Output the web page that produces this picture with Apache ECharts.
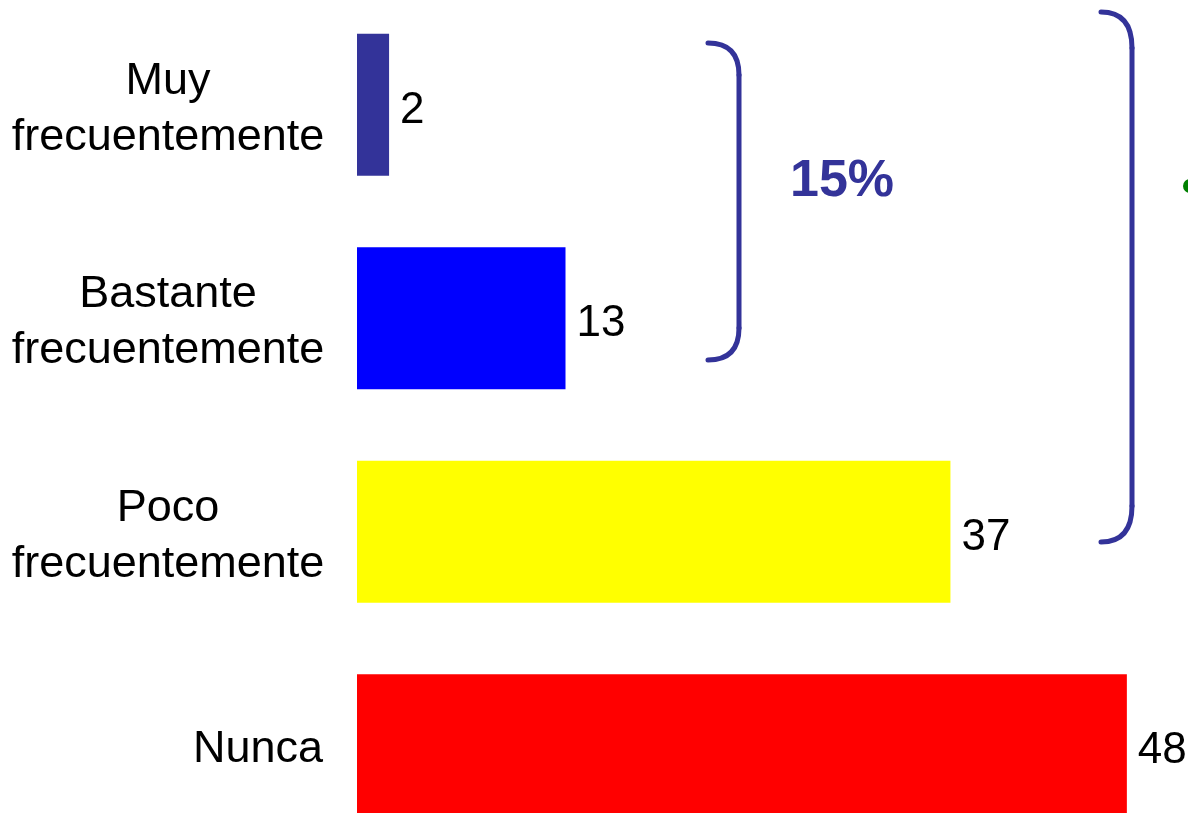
<!DOCTYPE html>
<html>
<head>
<meta charset="utf-8">
<script src="https://cdn.jsdelivr.net/npm/echarts@6/dist/echarts.min.js"></script>
<style>
  html, body { margin: 0; padding: 0; background: #fff; }
  #chart { width: 1188px; height: 813px; }
</style>
</head>
<body>
<div id="chart"></div>
<script>
// datos
const categories = ['Muy\nfrecuentemente', 'Bastante\nfrecuentemente', 'Poco\nfrecuentemente', 'Nunca']
const values = [2, 13, 37, 48]
const groupLabel = '15%'

const barColors = ['#333399', '#0000FF', '#FFFF00', '#FF0000']
const navy = '#333399'

// llave "}" hecha con dos curvas y una linea
function brace(x0, x1, top, bottom, r) {
  const st = { stroke: navy, lineWidth: 5, fill: null, lineCap: 'round' }
  return [
    { type: 'bezierCurve', shape: { x1: x0, y1: top, cpx1: x1, cpy1: top, x2: x1, y2: top + r }, style: st },
    { type: 'line', shape: { x1: x1, y1: top + r, x2: x1, y2: bottom - r }, style: st },
    { type: 'bezierCurve', shape: { x1: x1, y1: bottom - r, cpx1: x1, cpy1: bottom, x2: x0, y2: bottom }, style: st }
  ]
}

const myChart = echarts.init(document.getElementById('chart'))

const option = {
  backgroundColor: '#fff',
  animation: false,
  textStyle: { fontFamily: 'Liberation Sans, Arial, sans-serif' },
  grid: { left: 357, width: 826, top: -2, height: 854, containLabel: false, outerBoundsMode: 'none' },
  xAxis: {
    type: 'value',
    min: 0,
    max: 51.5,
    show: false
  },
  yAxis: {
    type: 'category',
    inverse: true,
    data: categories,
    axisLine: { show: false },
    axisTick: { show: false },
    splitLine: { show: false },
    axisLabel: {
      margin: 34,
      color: '#000',
      padding: [9, 0, 0, 0],
      formatter: function (v) {
        if (v.indexOf('\n') < 0) return '{n|' + v + '}'
        return v.split('\n').map(l => '{c|' + l + '}').join('\n')
      },
      rich: {
        c: { width: 310, align: 'center', fontSize: 45, lineHeight: 56, color: '#000' },
        n: { fontSize: 45, lineHeight: 56, color: '#000' }
      }
    }
  },
  series: [{
    type: 'bar',
    barWidth: 142,
    data: values.map((v, i) => ({ value: v, itemStyle: { color: barColors[i] } })),
    label: {
      show: true,
      position: 'right',
      distance: 11,
      fontSize: 44,
      color: '#000',
      offset: [0, 6]
    }
  }],
  graphic: [
    ...brace(708, 739, 43, 360, 32),
    ...brace(1101, 1132, 12, 542, 36),
    {
      type: 'text',
      left: 790,
      top: 156,
      style: { text: groupLabel, fontSize: 52, fontWeight: 'bold', fill: navy, fontFamily: 'Liberation Sans, Arial, sans-serif' }
    },
    {
      type: 'circle',
      shape: { cx: 1190, cy: 186, r: 7 },
      style: { fill: '#008000' }
    }
  ]
}

myChart.setOption(option)
</script>
</body>
</html>
